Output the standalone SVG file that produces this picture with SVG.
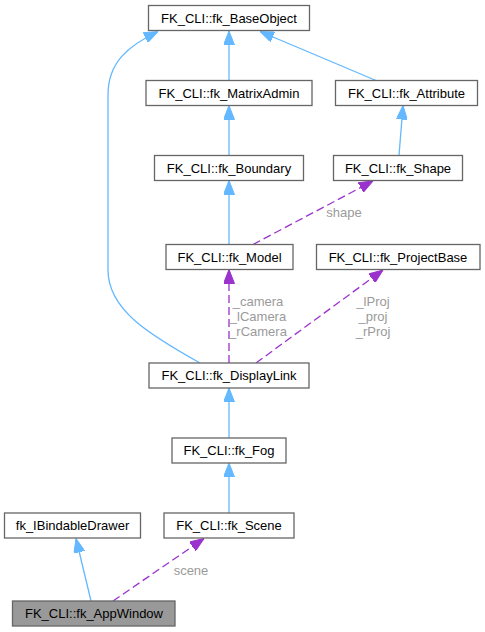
<svg xmlns="http://www.w3.org/2000/svg" width="485" height="632" viewBox="0 0 485 632">
<style>
.box{fill:#ffffff;stroke:#666666;stroke-width:1.3}
.cur{fill:#999999;stroke:#666666;stroke-width:1.3}
.t{font-family:"Liberation Sans",Arial,sans-serif;font-size:13px;fill:#000000;text-anchor:middle}
.lbl{font-family:"Liberation Sans",Arial,sans-serif;font-size:13px;fill:#9a9a9a;text-anchor:middle}
.inh{fill:none;stroke:#63b8ff;stroke-width:1.3;marker-end:url(#ab)}
.use{fill:none;stroke:#9a32cd;stroke-width:1.3;stroke-dasharray:8,4;marker-end:url(#ap)}
</style>
<defs>
<marker id="ab" viewBox="0 0 14 11" refX="14" refY="5.5" markerWidth="14" markerHeight="11" markerUnits="userSpaceOnUse" orient="auto">
<path d="M0,0 L14,5.5 L0,11 Z" fill="#63b8ff" stroke="#63b8ff" stroke-width="1"/>
</marker>
<marker id="ap" viewBox="0 0 14 11" refX="14" refY="5.5" markerWidth="14" markerHeight="11" markerUnits="userSpaceOnUse" orient="auto">
<path d="M0,0 L14,5.5 L0,11 Z" fill="#9a32cd" stroke="#9a32cd" stroke-width="1"/>
</marker>
</defs>
<rect width="485" height="632" fill="#ffffff"/>
<g id="connectors">
<path class="inh" d="M229,80.5 L229,31"/>
<path class="inh" d="M376,80.5 L260,31.5"/>
<path class="inh" d="M200,363 C150,335 108,310 108,270 L108,95 C108,62 128,46 158,31.5"/>
<path class="inh" d="M229,155.5 L229,105.5"/>
<path class="inh" d="M399,155.5 L403,105.5"/>
<path class="inh" d="M229,244.5 L229,180.5"/>
<path class="use" d="M253,244.5 L373,181"/>
<text class="lbl" x="344" y="217">shape</text>
<path class="use" d="M229,363 L229,269.5"/>
<text class="lbl" x="258" y="306">_camera</text>
<text class="lbl" x="258" y="321">_lCamera</text>
<text class="lbl" x="258" y="336">_rCamera</text>
<path class="use" d="M256,363 L383,270"/>
<text class="lbl" x="373" y="306">_lProj</text>
<text class="lbl" x="373" y="321">_proj</text>
<text class="lbl" x="373" y="336">_rProj</text>
<path class="inh" d="M229,438 L229,388"/>
<path class="inh" d="M229,513 L229,463"/>
<path class="inh" d="M91,601 L76,538.5"/>
<path class="use" d="M113,601 L204,538.5"/>
<text class="lbl" x="191" y="575">scene</text>
</g>
<g id="fk_BaseObject"><rect class="box" x="148.5" y="5.5" width="161" height="25"/><text class="t" x="229" y="22.5">FK_CLI::fk_BaseObject</text></g>
<g id="fk_MatrixAdmin"><rect class="box" x="146" y="80.5" width="166" height="25"/><text class="t" x="229" y="97.5">FK_CLI::fk_MatrixAdmin</text></g>
<g id="fk_Attribute"><rect class="box" x="335.5" y="80.5" width="142" height="25"/><text class="t" x="406.5" y="97.5">FK_CLI::fk_Attribute</text></g>
<g id="fk_Boundary"><rect class="box" x="154.5" y="155.5" width="149" height="25"/><text class="t" x="229" y="172.5">FK_CLI::fk_Boundary</text></g>
<g id="fk_Shape"><rect class="box" x="333.5" y="155.5" width="129" height="25"/><text class="t" x="398" y="172.5">FK_CLI::fk_Shape</text></g>
<g id="fk_Model"><rect class="box" x="166" y="244.5" width="127" height="25"/><text class="t" x="229.5" y="261.5">FK_CLI::fk_Model</text></g>
<g id="fk_ProjectBase"><rect class="box" x="316.5" y="244.5" width="163.5" height="25"/><text class="t" x="398" y="261.5">FK_CLI::fk_ProjectBase</text></g>
<g id="fk_DisplayLink"><rect class="box" x="149" y="363" width="160" height="25"/><text class="t" x="229" y="380">FK_CLI::fk_DisplayLink</text></g>
<g id="fk_Fog"><rect class="box" x="172" y="438" width="114" height="25"/><text class="t" x="229" y="455">FK_CLI::fk_Fog</text></g>
<g id="fk_Scene"><rect class="box" x="164" y="513" width="130" height="25"/><text class="t" x="229" y="530">FK_CLI::fk_Scene</text></g>
<g id="fk_IBindableDrawer"><rect class="box" x="4.5" y="513" width="136" height="25"/><text class="t" x="72.5" y="530">fk_IBindableDrawer</text></g>
<g id="fk_AppWindow"><rect class="cur" x="12.5" y="601" width="162.5" height="25"/><text class="t" x="94" y="618">FK_CLI::fk_AppWindow</text></g>
</svg>
